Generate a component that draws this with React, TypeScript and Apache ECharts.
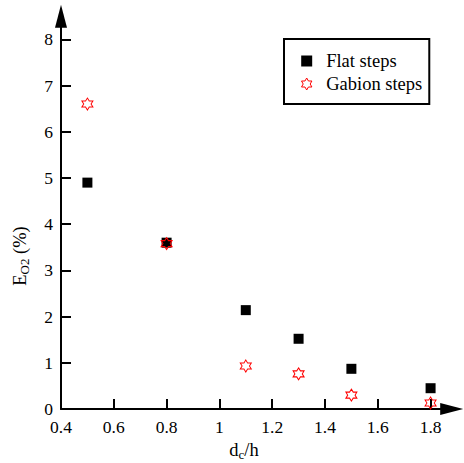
import React, { useEffect, useRef } from "react";
import * as echarts from "echarts";

const xValues = [0.5, 0.8, 1.1, 1.3, 1.5, 1.8];
const flatSteps = [4.9, 3.6, 2.14, 1.52, 0.87, 0.45];
const gabionSteps = [6.6, 3.58, 0.93, 0.76, 0.3, 0.13];
const xLabelValues = [0.4, 0.6, 0.8, 1.0, 1.2, 1.4, 1.6, 1.8];
const xTickValues = [0.6, 0.8, 1.0, 1.2, 1.4, 1.6, 1.8];
const yLabelValues = [0, 1, 2, 3, 4, 5, 6, 7, 8];
const yTickValues = [1, 2, 3, 4, 5, 6, 7, 8];
const seriesNames = ["Flat steps", "Gabion steps"];

const FONT = "Liberation Serif";
const STAR =
  "path://M0,-100L28.9,-50L86.6,-50L57.7,0L86.6,50L28.9,50L0,100L-28.9,50L-86.6,50L-57.7,0L-86.6,-50L-28.9,-50Z";
const SQUARE = "path://M0,0H10V10H0Z";

export default function App() {
  const ref = useRef<HTMLDivElement>(null);
  useEffect(() => {
    if (!ref.current) return;
    document.body.style.margin = "0";
    const chart = echarts.init(ref.current, null, { renderer: "svg" });
    const axisLine = {
      show: true,
      symbol: ["none", "triangle"],
      symbolSize: [12, 23],
      lineStyle: { color: "#000", width: 2 },
    };
    chart.setOption({
      animation: false,
      backgroundColor: "#fff",
      textStyle: { fontFamily: FONT },
      grid: { left: 61, right: 12.3, top: 16.3, bottom: 54 },
      xAxis: {
        type: "value",
        min: 0.4,
        max: 1.88,
        splitLine: { show: false },
        axisLine,
        axisTick: {
          inside: true,
          length: 10,
          customValues: xTickValues,
          lineStyle: { color: "#000", width: 2 },
        },
        axisLabel: {
          customValues: xLabelValues,
          color: "#000",
          fontFamily: FONT,
          fontSize: 17.5,
          margin: 9,
        },
      },
      yAxis: {
        type: "value",
        min: 0,
        max: 8.5,
        splitLine: { show: false },
        axisLine,
        axisTick: {
          inside: true,
          length: 10,
          customValues: yTickValues,
          lineStyle: { color: "#000", width: 2 },
        },
        axisLabel: {
          customValues: yLabelValues,
          color: "#000",
          fontFamily: FONT,
          fontSize: 17.5,
          margin: 8,
        },
      },
      legend: {
        orient: "vertical",
        left: 284,
        top: 39,
        padding: [12, 7, 10, 17],
        itemWidth: 11,
        itemHeight: 12,
        itemGap: 3,
        borderColor: "#000",
        borderWidth: 2,
        textStyle: {
          fontFamily: FONT,
          fontSize: 18.5,
          color: "#000",
          lineHeight: 20,
          padding: [0, 0, 0, 9],
        },
        data: [
          { name: seriesNames[0], icon: SQUARE, itemStyle: { color: "#000", opacity: 1 } },
          {
            name: seriesNames[1],
            icon: STAR,
            itemStyle: { color: "rgba(0,0,0,0)", borderColor: "#f00", borderWidth: 1, opacity: 1 },
          },
        ],
      },
      graphic: [
        {
          type: "text",
          x: 244,
          y: 450,
          style: {
            text: "{m|d}{s|c}{m|/h}",
            align: "center",
            verticalAlign: "middle",
            rich: {
              m: { fontFamily: FONT, fontSize: 18.5, fill: "#000" },
              s: { fontFamily: FONT, fontSize: 13, fill: "#000", padding: [8, 0, 0, 0] },
            },
          },
        },
        {
          type: "text",
          x: 20,
          y: 256,
          rotation: Math.PI / 2,
          style: {
            text: "{m|E}{s|O2}{m| (%)}",
            align: "center",
            verticalAlign: "middle",
            rich: {
              m: { fontFamily: FONT, fontSize: 18.5, fill: "#000" },
              s: { fontFamily: FONT, fontSize: 13, fill: "#000", padding: [8, 0, 0, 0] },
            },
          },
        },
      ],
      series: [
        {
          name: seriesNames[0],
          type: "scatter",
          symbol: "rect",
          symbolSize: 10,
          clip: false,
          itemStyle: { color: "#000", opacity: 1 },
          data: xValues.map((x, i) => [x, flatSteps[i]]),
        },
        {
          name: seriesNames[1],
          type: "scatter",
          symbol: STAR,
          symbolSize: [11, 12],
          clip: false,
          itemStyle: { color: "rgba(0,0,0,0)", borderColor: "#f00", borderWidth: 1, opacity: 1 },
          data: xValues.map((x, i) => [x, gabionSteps[i]]),
        },
      ],
    });
    return () => chart.dispose();
  }, []);
  return <div ref={ref} style={{ width: 464, height: 463 }} />;
}
